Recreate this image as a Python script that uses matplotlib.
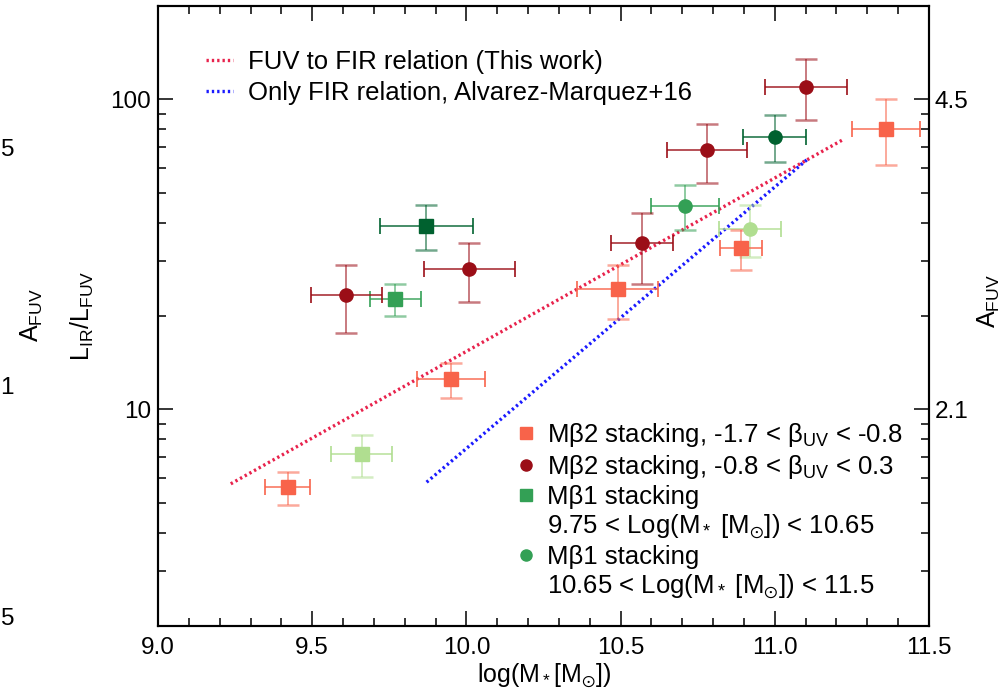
import matplotlib
matplotlib.use("Agg")
import matplotlib.pyplot as plt
from matplotlib.lines import Line2D
from matplotlib.ticker import FixedLocator, FixedFormatter, NullFormatter, LogLocator, MultipleLocator

plt.rcParams['font.family'] = ['Liberation Sans', 'DejaVu Sans']
plt.rcParams['mathtext.fontset'] = 'custom'
plt.rcParams['mathtext.rm'] = 'Liberation Sans'
plt.rcParams['mathtext.it'] = 'Liberation Sans:italic'
plt.rcParams['mathtext.bf'] = 'Liberation Sans:bold'
plt.rcParams['mathtext.fallback'] = 'stixsans'

# ---- data -------------------------------------------------------------
# M-beta2 stacking, -1.7 < beta_UV < -0.8
blue_x = [9.42, 9.95, 10.49, 10.89, 11.36]
blue_xerr = [0.073, 0.109, 0.13, 0.068, 0.111]
blue_y = [5.62, 12.5, 24.4, 33.1, 80.5]
blue_ylo = [4.92, 10.9, 19.5, 28.2, 61.5]
blue_yhi = [6.30, 14.1, 29.2, 38.0, 100.3]

# M-beta2 stacking, -0.8 < beta_UV < 0.3
red_x = [9.61, 10.01, 10.57, 10.78, 11.10]
red_xerr = [0.115, 0.146, 0.10, 0.129, 0.133]
red_y = [23.4, 28.3, 34.3, 68.7, 109.6]
red_ylo = [17.6, 22.2, 25.3, 53.8, 85.9]
red_yhi = [29.3, 34.4, 42.9, 83.4, 134.6]

# M-beta1 stacking, 9.75 < log M < 10.65 (three sub-bins)
lowm_x = [9.66, 9.77, 9.87]
lowm_xerr = [0.10, 0.084, 0.15]
lowm_y = [7.19, 22.65, 39.0]
lowm_ylo = [6.07, 20.0, 32.7]
lowm_yhi = [8.26, 25.4, 45.5]

# M-beta1 stacking, 10.65 < log M < 11.5 (three sub-bins)
highm_x = [10.92, 10.71, 11.00]
highm_xerr = [0.10, 0.11, 0.102]
highm_y = [38.2, 45.4, 75.7]
highm_ylo = [31.0, 37.8, 62.7]
highm_yhi = [45.5, 52.8, 88.7]

# relations (end points of straight lines in log space)
fuvfir_x = [9.236, 11.222]
fuvfir_y = [5.75, 74.2]
fir_x = [9.871, 11.107]
fir_y = [5.82, 64.2]

x_ticks = [9.0, 9.5, 10.0, 10.5, 11.0, 11.5]
x_ticklabels = ["9.0", "9.5", "10.0", "10.5", "11.0", "11.5"]
y_ticks = [10, 100]
y_ticklabels = ["10", "100"]
afuv_ticklabels = ["2.1", "4.5"]

# ---- style ------------------------------------------------------------
c_orange = '#F8634A'
c_darkred = '#9B0E17'
c_green_shades = ['#B0DE90', '#33A055', '#00612F']
c_fuvfir = '#E8224C'
c_fir = '#1A1AFF'

W, H = 1005, 696
fig = plt.figure(figsize=(W / 100, H / 100), dpi=100)
x0, x1, ytop, ybot = 158, 929, 6, 626
ax = fig.add_axes([x0 / W, (H - ybot) / H, (x1 - x0) / W, (ybot - ytop) / H])

ax.set_xlim(9.0, 11.5)
ax.set_yscale('log')
ax.set_ylim(2.0, 200.0)

lw_dot = 2.4
ax.plot(fuvfir_x, fuvfir_y, color=c_fuvfir, lw=lw_dot, ls=(0, (0.7, 0.9)),
        label='FUV to FIR relation (This work)', zorder=2)
ax.plot(fir_x, fir_y, color=c_fir, lw=lw_dot, ls=(0, (0.7, 0.9)),
        label='Only FIR relation, Alvarez-Marquez+16', zorder=2)


def draw_point(x, y, xe, ylo, yhi, color, marker, ms):
    ax.errorbar([x], [y], xerr=[[xe], [xe]], fmt='none', ecolor=color,
                elinewidth=1.2, capsize=6, capthick=1.4, alpha=0.85, zorder=3)
    ax.errorbar([x], [y], yerr=[[y - ylo], [yhi - y]], fmt='none', ecolor=color,
                elinewidth=1.4, capsize=8, capthick=1.8, alpha=0.55, zorder=3)
    ax.plot([x], [y], ls='none', marker=marker, color=color, ms=ms,
            mec=color, zorder=4)


for i in range(len(lowm_x)):
    draw_point(lowm_x[i], lowm_y[i], lowm_xerr[i], lowm_ylo[i], lowm_yhi[i],
               c_green_shades[i], 's', 9.5)
for i in range(len(highm_x)):
    draw_point(highm_x[i], highm_y[i], highm_xerr[i], highm_ylo[i], highm_yhi[i],
               c_green_shades[i], 'o', 9.5)
for i in range(len(red_x)):
    draw_point(red_x[i], red_y[i], red_xerr[i], red_ylo[i], red_yhi[i],
               c_darkred, 'o', 9.5)
for i in range(len(blue_x)):
    draw_point(blue_x[i], blue_y[i], blue_xerr[i], blue_ylo[i], blue_yhi[i],
               c_orange, 's', 9.5)

# ---- axes -------------------------------------------------------------
tick_fs = 17.5
ax.xaxis.set_major_locator(FixedLocator(x_ticks))
ax.xaxis.set_major_formatter(FixedFormatter(x_ticklabels))
ax.xaxis.set_minor_locator(MultipleLocator(0.1))
ax.yaxis.set_major_locator(FixedLocator(y_ticks))
ax.yaxis.set_major_formatter(FixedFormatter(y_ticklabels))
ax.yaxis.set_minor_locator(LogLocator(base=10, subs=range(2, 10)))
ax.yaxis.set_minor_formatter(NullFormatter())
ax.tick_params(which='both', direction='in', top=True, right=False,
               width=1.1, labelsize=tick_fs)
ax.tick_params(which='major', length=11)
ax.tick_params(which='minor', length=6)
ax.tick_params(axis='x', which='major', pad=8)
ax.tick_params(axis='y', which='major', pad=5)
for s in ax.spines.values():
    s.set_linewidth(1.5)

ax2 = ax.twinx()
ax2.set_yscale('log')
ax2.set_ylim(ax.get_ylim())
ax2.yaxis.set_major_locator(FixedLocator(y_ticks))
ax2.yaxis.set_major_formatter(FixedFormatter(afuv_ticklabels))
ax2.yaxis.set_minor_locator(LogLocator(base=10, subs=range(2, 10)))
ax2.yaxis.set_minor_formatter(NullFormatter())
ax2.tick_params(which='both', direction='in', width=1.1, labelsize=tick_fs, pad=4)
ax2.tick_params(which='major', length=11)
ax2.tick_params(which='minor', length=6)
for s in ax2.spines.values():
    s.set_linewidth(1.5)

SUN = '\u2299'
lab_fs = 18
ax.set_xlabel('log(M$_*$[M$_{' + SUN + '}$])', fontsize=lab_fs)
ax.xaxis.set_label_coords(0.5, -(662 - ybot) / (ybot - ytop))
ax.xaxis.label.set_va('top')
ax.set_ylabel(r'L$_{\rm IR}$/L$_{\rm FUV}$', fontsize=lab_fs)
ax.yaxis.set_label_coords((96 - x0) / (x1 - x0), 0.5)

fig.text(989 / W, 1 - 301 / H, r'A$_{\rm FUV}$', rotation=90, ha='center',
         va='center', fontsize=lab_fs)
fig.text(32 / W, 1 - 315 / H, r'A$_{\rm FUV}$', rotation=90, ha='center',
         va='center', fontsize=lab_fs)
for lbl, yp in [('5', 150), ('1', 388), ('5', 619)]:
    fig.text(14 / W, 1 - yp / H, lbl, ha='right', va='center', fontsize=tick_fs)

# ---- legends ----------------------------------------------------------
leg_fs = 18.5
leg1 = ax.legend(loc='center left', bbox_to_anchor=(0.062, 0.884), frameon=False,
                 fontsize=leg_fs, handlelength=1.05, handletextpad=0.6,
                 borderpad=0, borderaxespad=0, labelspacing=0.27)
ax.add_artist(leg1)

h_orange = Line2D([], [], ls='none', marker='s', color=c_orange, ms=8)
h_red = Line2D([], [], ls='none', marker='o', color=c_darkred, ms=8)
h_gs = Line2D([], [], ls='none', marker='s', color=c_green_shades[1], ms=8)
h_gc = Line2D([], [], ls='none', marker='o', color=c_green_shades[1], ms=8)
h_none = Line2D([], [], ls='none')
labels2 = [
    'Mβ2 stacking, -1.7 < β$_{\\rm UV}$ < -0.8',
    'Mβ2 stacking, -0.8 < β$_{\\rm UV}$ < 0.3',
    'Mβ1 stacking',
    '9.75 < Log(M$_*$ [M$_{' + SUN + '}$]) < 10.65',
    'Mβ1 stacking',
    '10.65 < Log(M$_*$ [M$_{' + SUN + '}$]) < 11.5',
]
leg2 = ax.legend([h_orange, h_red, h_gs, h_none, h_gc, h_none], labels2,
                 loc='center left', bbox_to_anchor=(0.464, 0.1855), frameon=False,
                 fontsize=leg_fs, handlelength=0.8, handletextpad=0.4,
                 borderpad=0, borderaxespad=0, labelspacing=0.16)

fig.savefig('out.png', dpi=100)
